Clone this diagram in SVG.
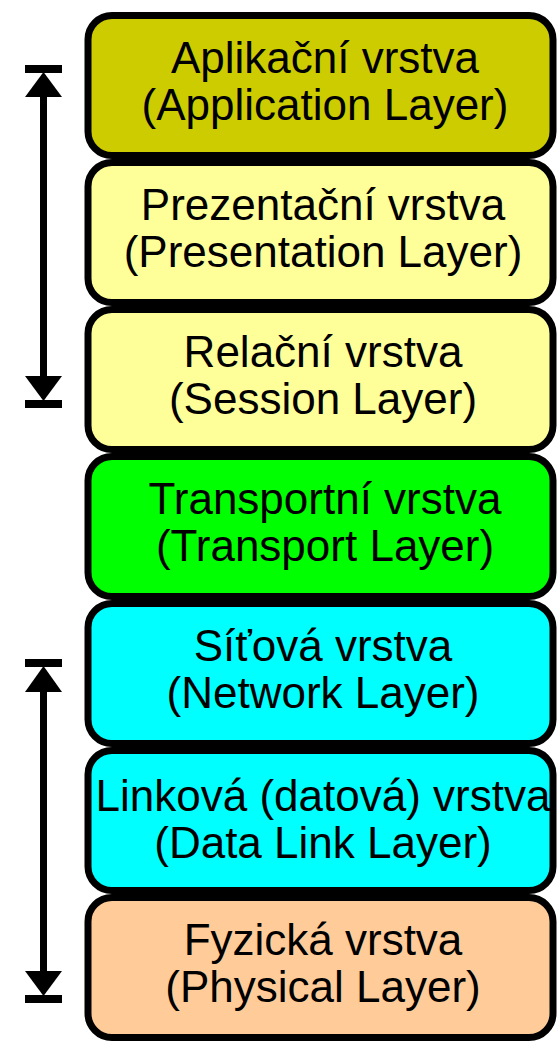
<svg xmlns="http://www.w3.org/2000/svg" width="559" height="1045" viewBox="0 0 559 1045">
  <style>
    .box { stroke: #000; stroke-width: 7; }
    .lbl { font-family: "Liberation Sans", Arial, sans-serif; font-size: 44px; fill: #000; text-anchor: middle; }
    .shaft { stroke: #000; stroke-width: 7; fill: none; }
    .bar { fill: #000; }
    .head { fill: #000; }
  </style>
  <rect width="559" height="1045" fill="#fff"/>
  <g id="connectors">
    <g id="arrow-upper">
      <rect class="bar" x="25" y="65" width="37" height="8"/>
      <polygon class="head" points="43.5,72 25,97 62,97"/>
      <line class="shaft" x1="43.5" y1="95" x2="43.5" y2="380"/>
      <polygon class="head" points="43.5,401 25,376 62,376"/>
      <rect class="bar" x="25" y="400" width="37" height="8"/>
    </g>
    <g id="arrow-lower">
      <rect class="bar" x="25" y="659" width="37" height="8"/>
      <polygon class="head" points="43.5,666 25,692 62,692"/>
      <line class="shaft" x1="43.5" y1="690" x2="43.5" y2="975"/>
      <polygon class="head" points="43.5,996 25,971 62,971"/>
      <rect class="bar" x="25" y="995" width="37" height="8"/>
    </g>
  </g>
  <g id="application">
    <rect class="box" x="88" y="15.5" width="465" height="140" rx="24" fill="#cccc00"/>
    <text class="lbl" x="325" y="73">Aplikační vrstva</text>
    <text class="lbl" x="325" y="120">(Application Layer)</text>
  </g>
  <g id="presentation">
    <rect class="box" x="88" y="162.5" width="465" height="140" rx="24" fill="#ffff99"/>
    <text class="lbl" x="323" y="220">Prezentační vrstva</text>
    <text class="lbl" x="323" y="267">(Presentation Layer)</text>
  </g>
  <g id="session">
    <rect class="box" x="88" y="309.5" width="465" height="140" rx="24" fill="#ffff99"/>
    <text class="lbl" x="323" y="367">Relační vrstva</text>
    <text class="lbl" x="323" y="414">(Session Layer)</text>
  </g>
  <g id="transport">
    <rect class="box" x="88" y="456.5" width="465" height="140" rx="24" fill="#00ff00"/>
    <text class="lbl" x="325" y="514">Transportní vrstva</text>
    <text class="lbl" x="325" y="561">(Transport Layer)</text>
  </g>
  <g id="network">
    <rect class="box" x="88" y="603.5" width="465" height="140" rx="24" fill="#00ffff"/>
    <text class="lbl" x="323" y="661">Síťová vrstva</text>
    <text class="lbl" x="323" y="708">(Network Layer)</text>
  </g>
  <g id="datalink">
    <rect class="box" x="88" y="750.5" width="465" height="140" rx="24" fill="#00ffff"/>
    <text class="lbl" x="323" y="811">Linková (datová) vrstva</text>
    <text class="lbl" x="323" y="858">(Data Link Layer)</text>
  </g>
  <g id="physical">
    <rect class="box" x="88" y="897.5" width="465" height="140" rx="24" fill="#ffcc99"/>
    <text class="lbl" x="323" y="955">Fyzická vrstva</text>
    <text class="lbl" x="323" y="1002">(Physical Layer)</text>
  </g>
</svg>
